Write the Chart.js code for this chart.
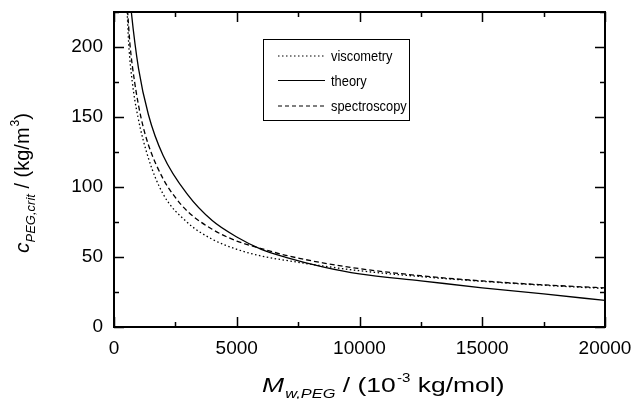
<!DOCTYPE html>
<html>
<head>
<meta charset="utf-8">
<script src="https://cdn.jsdelivr.net/npm/chart.js@4"></script>
<style>
  html, body { margin: 0; padding: 0; background: #fff; }
  #wrap { width: 635px; height: 399px; }
</style>
</head>
<body>
<div id="wrap"><canvas id="chart" width="635" height="399"></canvas></div>
<script>
// values
var seriesNames = ['viscometry', 'theory', 'spectroscopy'];

var visX = [450, 540, 600, 745, 975, 1400, 2000, 3000, 4000, 5000, 6000, 7000, 8500, 10000, 12500, 15000, 17500, 20000];
var visY = [262, 224, 202, 175, 150, 120.7, 95, 74.5, 62.7, 55.5, 50.7, 47.6, 43.6, 40.2, 36, 32.6, 29.8, 27.5];

var theoX = [600, 700, 1000, 1400, 2000, 3000, 4000, 5000, 6000, 7000, 8500, 10000, 12500, 15000, 17500, 20000];
var theoY = [246, 226, 184.5, 151.8, 122.5, 94.5, 76, 64.3, 55.5, 49.8, 43, 37.9, 33, 28, 23.6, 19];

var specX = [470, 560, 650, 840, 1100, 1400, 2000, 2500, 3000, 4000, 5000, 6000, 7000, 8500, 10000, 12500, 15000, 17500, 20000];
var specY = [249, 224, 202, 175, 149.6, 130.2, 105.9, 92.5, 82.5, 69.8, 61.4, 56, 51.2, 45.8, 41.7, 36.6, 32.9, 30.1, 27.9];

var xTicks = [0, 5000, 10000, 15000, 20000];
var yTicks = [0, 50, 100, 150, 200];
var xMinorStep = 2500;
var yMinorStep = 25;

var FONT = '"Liberation Sans", Arial, Helvetica, sans-serif';

function toPoints(xs, ys) {
    return xs.map(function(x, i) { return { x: x, y: ys[i] }; });
}

// frame, inward ticks on all four sides
var framePlugin = {
    id: 'frame',
    afterDraw: function(chart) {
        var ctx = chart.ctx;
        var a = chart.chartArea;
        var xs = chart.scales.x, ys = chart.scales.y;
        ctx.save();
        ctx.strokeStyle = '#000';
        ctx.lineWidth = 2;
        ctx.strokeRect(a.left, a.top, a.right - a.left, a.bottom - a.top);

        ctx.lineWidth = 1.5;
        ctx.beginPath();
        for (var v = 0; v <= 20000; v += xMinorStep) {
            var px = Math.round(xs.getPixelForValue(v)) + 0.5;
            var len = (v % 5000 === 0) ? 10 : 5;
            ctx.moveTo(px, a.bottom); ctx.lineTo(px, a.bottom - len);
            ctx.moveTo(px, a.top); ctx.lineTo(px, a.top + len);
        }
        for (var w = 0; w <= 225; w += yMinorStep) {
            var py = Math.round(ys.getPixelForValue(w)) + 0.5;
            var l2 = (w % 50 === 0) ? 10 : 5;
            ctx.moveTo(a.left, py); ctx.lineTo(a.left + l2, py);
            ctx.moveTo(a.right, py); ctx.lineTo(a.right - l2, py);
        }
        ctx.stroke();
        ctx.restore();
    }
};

// legend box and axis titles with sub/superscripts
var textPlugin = {
    id: 'texts',
    afterDraw: function(chart) {
        var ctx = chart.ctx;
        ctx.save();
        ctx.fillStyle = '#000';
        ctx.strokeStyle = '#000';

        // legend
        ctx.lineWidth = 1;
        ctx.strokeRect(263.5, 39.5, 146, 81);
        var rows = [56, 80.5, 106];
        var dashes = [[1.5, 2.5], [], [4, 3]];
        ctx.textBaseline = 'middle';
        ctx.textAlign = 'left';
        for (var i = 0; i < 3; i++) {
            ctx.setLineDash(dashes[i]);
            ctx.lineWidth = 1.2;
            ctx.beginPath();
            ctx.moveTo(278, rows[i]);
            ctx.lineTo(325, rows[i]);
            ctx.stroke();
            ctx.save();
            ctx.translate(331, rows[i] + 1);
            ctx.scale(0.83, 1);
            ctx.font = '15.5px ' + FONT;
            ctx.fillText(seriesNames[i], 0, 0);
            ctx.restore();
        }
        ctx.setLineDash([]);

        // x title: M_w,PEG / (10^-3 kg/mol), a bit stretched like the original
        ctx.textBaseline = 'alphabetic';
        ctx.save();
        ctx.translate(262, 392);
        ctx.scale(1.26, 1);
        var x = 0;
        ctx.font = 'italic 21px ' + FONT;
        ctx.fillText('M', x, 0);
        x += ctx.measureText('M').width + 1;
        ctx.font = 'italic 13px ' + FONT;
        ctx.fillText('w,PEG', x, 6);
        x += ctx.measureText('w,PEG').width;
        ctx.font = '21px ' + FONT;
        ctx.fillText(' / (10', x, 0);
        x += ctx.measureText(' / (10').width;
        ctx.font = '12px ' + FONT;
        ctx.fillText('-3', x + 1, -10);
        x += ctx.measureText('-3').width + 1;
        ctx.font = '21px ' + FONT;
        ctx.fillText(' kg/mol)', x, 0);
        ctx.restore();

        // y title: c_PEG,crit / (kg/m^3), rotated
        ctx.translate(29, 253);
        ctx.rotate(-Math.PI / 2);
        var t = 0;
        ctx.font = 'italic 21px ' + FONT;
        ctx.fillText('c', t, 0);
        t += ctx.measureText('c').width;
        ctx.font = 'italic 13px ' + FONT;
        ctx.fillText('PEG,crit', t, 6);
        t += ctx.measureText('PEG,crit').width;
        ctx.font = '20px ' + FONT;
        ctx.fillText(' / (kg/m', t, 0);
        t += ctx.measureText(' / (kg/m').width;
        ctx.font = '12px ' + FONT;
        ctx.fillText('3', t + 1, -10);
        t += ctx.measureText('3').width + 1;
        ctx.font = '20px ' + FONT;
        ctx.fillText(')', t, 0);
        ctx.restore();
    }
};

var lineStyle = function(label, data, dash) {
    return {
        label: label,
        data: data,
        borderColor: '#000',
        borderWidth: 1.3,
        borderDash: dash,
        pointRadius: 0,
        fill: false,
        cubicInterpolationMode: 'monotone'
    };
};

var zeroPad = function(s) {
    s.paddingLeft = 0; s.paddingRight = 0; s.paddingTop = 0; s.paddingBottom = 0;
};

new Chart(document.getElementById('chart'), {
    type: 'line',
    data: {
        datasets: [
            lineStyle(seriesNames[0], toPoints(visX, visY), [1.5, 2.5]),
            lineStyle(seriesNames[1], toPoints(theoX, theoY), []),
            lineStyle(seriesNames[2], toPoints(specX, specY), [5, 3])
        ]
    },
    options: {
        responsive: false,
        animation: false,
        layout: { padding: { left: 0, right: 30, top: 12, bottom: 0 } },
        plugins: { legend: { display: false }, tooltip: { enabled: false } },
        scales: {
            x: {
                type: 'linear',
                min: 0,
                max: 20000,
                afterBuildTicks: function(s) { s.ticks = xTicks.map(function(v) { return { value: v }; }); },
                afterFit: function(s) { s.height = 72; zeroPad(s); },
                grid: { display: false, drawTicks: false },
                border: { display: false },
                ticks: {
                    color: '#000',
                    font: { family: FONT, size: 19 },
                    padding: 10,
                    maxRotation: 0,
                    autoSkip: false,
                    callback: function(v) { return String(v); }
                }
            },
            y: {
                min: 0,
                max: 225,
                afterBuildTicks: function(s) { s.ticks = yTicks.map(function(v) { return { value: v }; }); },
                afterFit: function(s) { s.width = 114; zeroPad(s); },
                grid: { display: false, drawTicks: false },
                border: { display: false },
                ticks: {
                    color: '#000',
                    font: { family: FONT, size: 19 },
                    padding: 11,
                    callback: function(v) { return String(v); }
                }
            }
        }
    },
    plugins: [framePlugin, textPlugin]
});
</script>
</body>
</html>
